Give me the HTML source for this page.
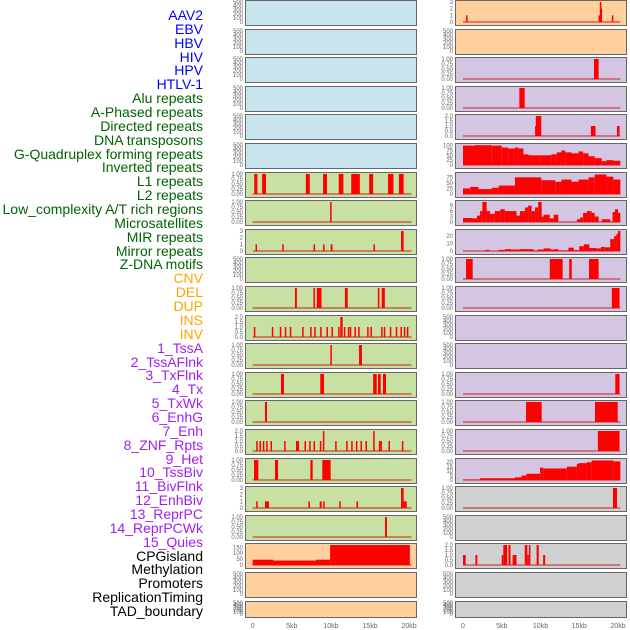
<!DOCTYPE html>
<html><head><meta charset="utf-8">
<style>
html,body{margin:0;padding:0;background:#fff;}
#wrap{position:relative;width:630px;height:630px;overflow:hidden;font-family:"Liberation Sans",sans-serif;}
.lab{position:absolute;right:427px;font-size:14px;line-height:14px;white-space:nowrap;}
</style></head>
<body>
<div id="wrap">
<div id="labels"></div>
<svg id="chart" width="630" height="630" style="position:absolute;left:0;top:0"></svg>
</div>
<script>
// ---- labels ----
const labelNames = ["AAV2","EBV","HBV","HIV","HPV","HTLV-1","Alu repeats","A-Phased repeats","Directed repeats","DNA transposons","G-Quadruplex forming repeats","Inverted repeats","L1 repeats","L2 repeats","Low_complexity A/T rich regions","Microsatellites","MIR repeats","Mirror repeats","Z-DNA motifs","CNV","DEL","DUP","INS","INV","1_TssA","2_TssAFlnk","3_TxFlnk","4_Tx","5_TxWk","6_EnhG","7_Enh","8_ZNF_Rpts","9_Het","10_TssBiv","11_BivFlnk","12_EnhBiv","13_ReprPC","14_ReprPCWk","15_Quies","CPGisland","Methylation","Promoters","ReplicationTiming","TAD_boundary"];
const labelGroups = [6,13,5,15,5];
const labelColors = ["#0000ff","#006400","#ffa500","#a020f0","#000000"];

// ---- x axis ----
const xTickVals = [0,5,10,15,20];
const xTickLabels = ["0","5kb","10kb","15kb","20kb"];

// ---- tick label sets ----
const t500 = ["0","100","200","300","400","500"];
const t1 = ["0.00","0.25","0.50","0.75","1.00"];
const t3 = ["0","1","2","3"];
const t2 = ["0.0","0.5","1.0","1.5","2.0"];

// ---- column 1 data: [startKb, endKb, value] ----
const c1L1 = [[0.2,0.6,1],[1.2,1.7,1],[6.8,7.3,1],[9.0,9.5,1],[11.0,11.6,1],[12.6,13.7,1],[14.9,15.4,1],[17.3,18.0,1],[18.7,19.3,1]];
const c1Low = [[9.9,10.05,1]];
const c1Micro = [[0.36,0.48,1],[3.78,3.9,1],[7.78,7.9,1],[9.0,9.13,1],[9.97,10.2,1],[15.44,15.56,1],[18.97,19.3,3]];
const c1Mirror = [[5.4,5.65,1],[7.76,7.93,1],[8.2,8.8,1],[11.8,12.15,1],[16.0,16.2,1],[16.5,16.9,1]];
const c1ZdnaPos = [0.21,2.51,3.53,4.17,4.81,6.39,7.41,7.93,8.69,9.5,10.14,10.99,11.72,12.23,12.48,13.08,13.55,14.7,15.12,16.49,16.83,17.6,18.36,18.96,19.39,19.78];
const c1ZdnaHigh = [[11.2,11.5,2]];
const c1Ins = [[9.93,10.1,1],[13.6,13.97,1]];
const c1Inv = [[3.62,4.0,1],[8.64,9.12,1],[15.4,15.86,1],[16.02,16.37,1],[16.66,17.05,1]];
const c1TssA = [[1.57,1.83,1]];
const c1TssAFlnkPos = [0.51,0.93,1.36,1.79,2.34,4.09,5.6,5.8,6.69,7.29,7.84,8.65,10.61,12.02,12.66,13.26,13.85,14.49,16.2,16.4,17.43,19.14];
const c1TssAFlnkHigh = [[8.97,9.1,2],[15.41,15.54,2]];
const c1TxFlnk = [[0.17,0.72,1],[2.85,3.24,1],[7.37,7.67,1],[8.9,9.97,1]];
const c1Tx = [[0.45,0.57,1],[1.57,2.08,1],[7.12,7.24,1],[8.57,8.82,1],[9.01,9.13,1],[11.06,11.18,1],[13.28,13.4,1],[18.97,19.3,3],[19.3,19.7,1]];
const c1TxWk = [[16.92,17.17,1]];
const c1CpgEdges = [0,2.6,8.1,9.9,20.1];
const c1CpgValues = [45,38,45,170];

// ---- column 2 data ----
const c2Aav = [[0.4,0.55,1],[17.5,17.65,1],[17.65,17.75,3],[17.75,17.85,2],[19.2,19.35,1]];
const c2Hiv = [[16.9,17.5,1]];
const c2Hpv = [[7.27,7.96,1]];
const c2Alu = [[9.3,9.4,1],[9.4,10.1,2],[16.5,17.1,1],[19.87,20.2,1]];
const c2APhEdges = [0,1.55,3.7,5.0,5.85,6.7,7.15,7.8,8.45,9.9,11.4,12.1,12.7,13.2,14.0,14.9,15.5,16.2,17.0,17.9,18.5,19.4,20.3];
const c2APhValues = [100,102,100,90,85,90,85,55,50,50,55,65,75,65,60,70,60,45,35,20,25,22];
const c2DirEdges = [0,0.95,2.0,3.7,4.6,6.7,10.1,11.9,12.7,14.0,14.9,16.2,17.0,18.5,19.4,20.3];
const c2DirValues = [25,32,22,28,38,75,62,55,65,55,65,75,88,78,65];
const c2DnaEdges = [0,1.1,1.8,2.2,2.5,3.05,3.5,4.1,4.8,5.4,6.9,7.35,8.0,8.4,8.85,9.3,9.7,10.15,10.4,11.2,11.7,12.3,14.7,15.1,15.5,16.0,16.6,17.0,17.5,17.9,19.0,19.3,19.6,20.0,20.3];
const c2DnaValues = [2.2,2,3.5,6,11,6,4.5,6,7,6,3.5,6,8,9,6,8,11,3,4,2,4,0,1.5,2.5,5,6,5,3,0,1.5,0,5.5,7,5];
const c2GqEdges = [0,2.8,3.4,4.6,5.4,6.2,7.3,8.2,9.1,9.6,10.4,11.3,11.8,12.3,13.6,14.3,15.0,15.6,16.3,17.2,17.8,18.3,19.0,19.5,19.8,20.0,20.3];
const c2GqValues = [0,1.5,0,1.5,2.5,2,2.5,2.5,0.5,2,3.5,2,2.5,0.5,4.5,1,6.5,9,4,3.5,5.5,5,16,20,23,27];
const c2Inv = [[0.39,1.25,1],[11.2,12.86,1],[13.7,14.03,1],[16.26,17.5,1]];
const c2L1 = [[19.2,20.2,1]];
const c2MicroS = [[19.65,20.2,1]];
const c2Mir = [[8.13,10.15,1],[17.03,19.96,1]];
const c2Mirror = [[17.4,20.2,1]];
const c2ZEdges = [0,2.2,6.7,7.55,8.2,9.95,10.35,13.4,14.7,14.9,15.95,16.6,19.4,20.3];
const c2ZValues = [0.3,2,3,5,7,14,13,15,18,19,20,22,21];
const c2Cnv = [[19.35,19.87,1]];
const c2Ins = [[0,0.35,1],[1.6,1.85,1],[5.0,5.2,1],[5.2,5.7,2],[5.87,6.13,2],[6.4,6.9,1],[7.97,8.3,2],[8.3,8.5,1],[8.5,8.7,2],[9.5,9.77,2],[10.34,10.6,1]];

// ---- helpers ----
function stepToBars(edges, values){const out=[];for(let i=0;i<values.length;i++)out.push([edges[i],edges[i+1],values[i]]);return out;}
function posToBars(pos, w, v){return pos.map(p=>[p-w/2,p+w/2,v]);}

const BLUE="#c8e4ec", GREEN="#c8e0a2", ORANGE="#ffd09e", PURPLE="#d4c5e2", GREY="#d0d0d0";
const col1 = [
 [BLUE,500,t500,null],[BLUE,500,t500,null],[BLUE,500,t500,null],[BLUE,500,t500,null],[BLUE,500,t500,null],[BLUE,500,t500,null],
 [GREEN,1,t1,c1L1],[GREEN,1,t1,c1Low],[GREEN,3,t3,c1Micro],[GREEN,500,t500,null],[GREEN,1,t1,c1Mirror],
 [GREEN,2,t2,posToBars(c1ZdnaPos,0.13,1).concat(c1ZdnaHigh)],[GREEN,1,t1,c1Ins],[GREEN,1,t1,c1Inv],[GREEN,1,t1,c1TssA],
 [GREEN,2,t2,posToBars(c1TssAFlnkPos,0.13,1).concat(c1TssAFlnkHigh)],[GREEN,1,t1,c1TxFlnk],[GREEN,3,t3,c1Tx],[GREEN,1,t1,c1TxWk],
 [ORANGE,170,["0","50","100","150"],stepToBars(c1CpgEdges,c1CpgValues)],[ORANGE,500,t500,null],[ORANGE,500,t500,null]
];
const col2 = [
 [ORANGE,3,t3,c2Aav],[ORANGE,500,t500,null],[PURPLE,1,t1,c2Hiv],[PURPLE,1,t1,c2Hpv],[PURPLE,2,t2,c2Alu],
 [PURPLE,103,["0","25","50","75","100"],stepToBars(c2APhEdges,c2APhValues)],
 [PURPLE,90,["0","25","50","75"],stepToBars(c2DirEdges,c2DirValues)],
 [PURPLE,11,["0","3","6","9"],stepToBars(c2DnaEdges,c2DnaValues)],
 [PURPLE,27,["0","10","20"],stepToBars(c2GqEdges,c2GqValues)],
 [PURPLE,1,t1,c2Inv],[PURPLE,1,t1,c2L1],[PURPLE,500,t500,null],[PURPLE,500,t500,null],[PURPLE,1,t1,c2MicroS],
 [PURPLE,1,t1,c2Mir],[PURPLE,1,t1,c2Mirror],
 [PURPLE,22.5,["0","5","10","15","20"],stepToBars(c2ZEdges,c2ZValues)],
 [GREY,1,t1,c2Cnv],[GREY,500,t500,null],[GREY,2,t2,c2Ins],[GREY,500,t500,null],[GREY,500,t500,null]
];

// ---- draw labels ----
const labDiv=document.getElementById('labels');
let gi=0,cnt=0;
labelNames.forEach((n,i)=>{
  while(cnt>=labelGroups[gi]){cnt=0;gi++;}
  cnt++;
  const d=document.createElement('div');
  d.className='lab';
  d.style.top=(15+i*13.86-7)+'px';
  d.style.color=labelColors[gi];
  d.textContent=n;
  
  
  labDiv.appendChild(d);
});

// ---- draw panels ----
const svg=document.getElementById('chart');
const NS="http://www.w3.org/2000/svg";
function mk(tag,attrs){const e=document.createElementNS(NS,tag);for(const k in attrs)e.setAttribute(k,attrs[k]);svg.appendChild(e);return e;}
const colX=[245,455], colW=171, x0=[252.7,463], kbPx=[7.82,7.75];
function drawCol(tracks,c){
  tracks.forEach((t,r)=>{
    const top=Math.round(r*28.6), h=(r===21)?16:25;
    const [bg,ymax,ticks,data]=t;
    const yb=top+h-3, yt=top+2;
    const ys=v=>yb-(v/ymax)*(yb-yt);
    const xs=k=>x0[c]+k*kbPx[c];
    const p=mk('rect',{x:colX[c]+0.5,y:top+0.5,width:colW,height:h,fill:bg,stroke:'#666',"stroke-width":1});
    
    
    const n=ticks.length, tmax=(ymax===500)?500:parseFloat(ticks[n-1]);
    ticks.forEach(tl=>{
      const v=parseFloat(tl);
      const tx=mk('text',{x:colX[c]-2,y:ys(ymax===500?v:v)+2,"font-size":6,fill:'#666',"text-anchor":'end'});
      tx.textContent=tl;
      
      
    });
    if(data){
      const bl=mk('rect',{x:xs(0),y:yb-1,width:xs(20.3)-xs(0),height:2,fill:'#c83030',opacity:0.55});
      
      
      data.forEach(d=>{
        if(d[2]<=0)return;
        const xa=xs(d[0]), xb=xs(d[1]);
        const b=mk('rect',{x:xa,y:ys(d[2]),width:Math.max(1.5,xb-xa),height:yb-ys(d[2]),fill:'#ff0000'});
        
        
      });
    }
  });
  xTickVals.forEach((v,i)=>{
    const tx=mk('text',{x:x0[c]+v*kbPx[c],y:628,"font-size":7,fill:'#666',"text-anchor":'middle'});
    tx.textContent=xTickLabels[i];
    
    
  });
}
drawCol(col1,0);
drawCol(col2,1);
</script>
</body></html>
